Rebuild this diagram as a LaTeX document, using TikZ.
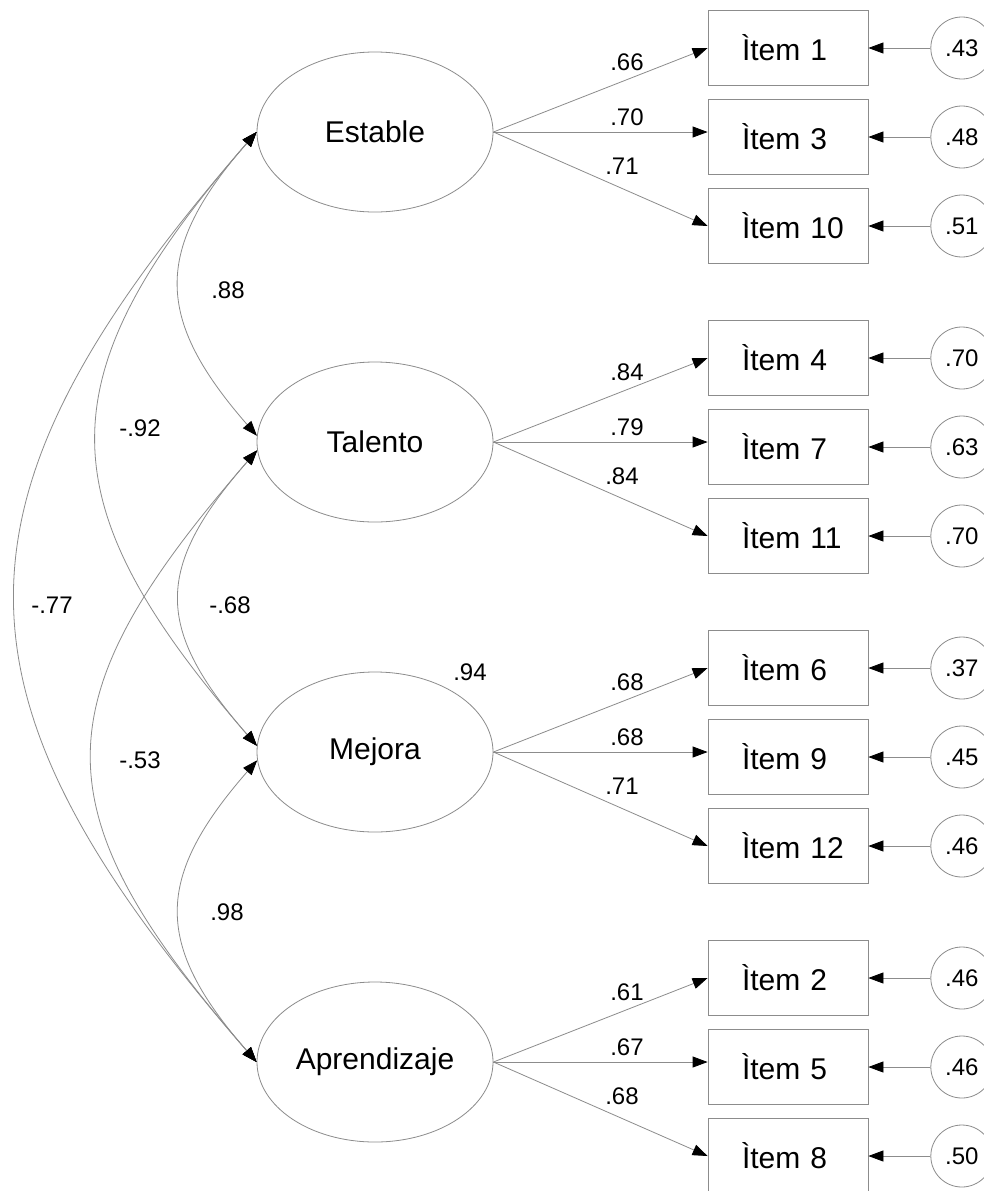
\documentclass[tikz,border=0pt]{standalone}
\usepackage{fontspec}
\setmainfont{Liberation Sans}
\usepackage{tikz}
\usetikzlibrary{positioning}
\usetikzlibrary{shapes.geometric}
\usetikzlibrary{arrows.meta}
\tikzset{
  latent_node/.style = {ellipse, draw=black!45, line width=0.8pt,
    minimum width=236pt, minimum height=160pt, inner sep=0pt,
    font=\fontsize{30}{35}\selectfont},
  item_node/.style = {rectangle, draw=black!45, line width=0.8pt,
    minimum width=160pt, minimum height=75pt, text width=92pt, align=left,
    font=\fontsize{30}{35}\selectfont},
  error_node/.style = {circle, draw=black!45, line width=0.8pt,
    minimum size=62pt, inner sep=0pt, font=\fontsize{24}{28}\selectfont},
  coef_label/.style = {inner sep=0pt, font=\fontsize{24}{28}\selectfont},
  load_arrow/.style = {->, draw=black!45, line width=0.8pt},
  cov_arrow/.style = {<->, draw=black!45, line width=0.8pt}
}
\begin{document}
\begin{tikzpicture}[
    x=1pt, y=-1pt,
    >={Triangle[length=15pt,width=11pt,color=black]}
    ]
  \useasboundingbox[fill=white] (0,0) rectangle (983,1191);

  \node[latent_node] (est) at (375,132) {Estable};
  \node[latent_node] (tal) at (375,442) {Talento};
  \node[latent_node] (mej) at (375,752) {Mejora};
  \node[latent_node] (apr) at (375,1062) {Aprendizaje};

  \node[item_node] (i1) at (788,48) {Ìtem~1};
  \node[item_node] (i3) at (788,137) {Ìtem~3};
  \node[item_node] (i10) at (788,226) {Ìtem~10};
  \node[item_node] (i4) at (788,358) {Ìtem~4};
  \node[item_node] (i7) at (788,447) {Ìtem~7};
  \node[item_node] (i11) at (788,536) {Ìtem~11};
  \node[item_node] (i6) at (788,668) {Ìtem~6};
  \node[item_node] (i9) at (788,757) {Ìtem~9};
  \node[item_node] (i12) at (788,846) {Ìtem~12};
  \node[item_node] (i2) at (788,978) {Ìtem~2};
  \node[item_node] (i5) at (788,1067) {Ìtem~5};
  \node[item_node] (i8) at (788,1156) {Ìtem~8};

  \node[error_node, right=62pt of i1] (e1) {.43};
  \node[error_node, right=62pt of i3] (e3) {.48};
  \node[error_node, right=62pt of i10] (e10) {.51};
  \node[error_node, right=62pt of i4] (e4) {.70};
  \node[error_node, right=62pt of i7] (e7) {.63};
  \node[error_node, right=62pt of i11] (e11) {.70};
  \node[error_node, right=62pt of i6] (e6) {.37};
  \node[error_node, right=62pt of i9] (e9) {.45};
  \node[error_node, right=62pt of i12] (e12) {.46};
  \node[error_node, right=62pt of i2] (e2) {.46};
  \node[error_node, right=62pt of i5] (e5) {.46};
  \node[error_node, right=62pt of i8] (e8) {.50};

  \path (est.east) edge[load_arrow] (i1.west) edge[load_arrow] (est.east -| i3.west)
    edge[load_arrow] (i10.west);
  \path (tal.east) edge[load_arrow] (i4.west) edge[load_arrow] (tal.east -| i7.west)
    edge[load_arrow] (i11.west);
  \path (mej.east) edge[load_arrow] (i6.west) edge[load_arrow] (mej.east -| i9.west)
    edge[load_arrow] (i12.west);
  \path (apr.east) edge[load_arrow] (i2.west) edge[load_arrow] (apr.east -| i5.west)
    edge[load_arrow] (i8.west);

  \path (e1) edge[load_arrow] (i1) (e3) edge[load_arrow] (i3)
    (e10) edge[load_arrow] (i10);
  \path (e4) edge[load_arrow] (i4) (e7) edge[load_arrow] (i7)
    (e11) edge[load_arrow] (i11);
  \path (e6) edge[load_arrow] (i6) (e9) edge[load_arrow] (i9)
    (e12) edge[load_arrow] (i12);
  \path (e2) edge[load_arrow] (i2) (e5) edge[load_arrow] (i5)
    (e8) edge[load_arrow] (i8);

  \node[coef_label] (l1) at (627,62) {.66};
  \node[coef_label] (l3) at (627,117) {.70};
  \node[coef_label] (l10) at (622,166) {.71};
  \node[coef_label] (l4) at (627,372) {.84};
  \node[coef_label] (l7) at (627,427) {.79};
  \node[coef_label] (l11) at (622,476) {.84};
  \node[coef_label] (l6) at (627,682) {.68};
  \node[coef_label] (l9) at (627,737) {.68};
  \node[coef_label] (l12) at (622,786) {.71};
  \node[coef_label] (l2) at (627,992) {.61};
  \node[coef_label] (l5) at (627,1047) {.67};
  \node[coef_label] (l8) at (622,1096) {.68};

  \draw[cov_arrow] (est.west) .. controls +(-103,118) and +(-103,-118) .. (tal.177);
  \draw[cov_arrow] (est.west) .. controls +(-213,245) and +(-213,-245) .. (mej.177);
  \draw[cov_arrow] (est.west) .. controls +(-321,369) and +(-321,-369) .. (apr.west);
  \draw[cov_arrow] (tal.184) .. controls +(-103,118) and +(-103,-118) .. (mej.177);
  \draw[cov_arrow] (tal.184) .. controls +(-219,252) and +(-219,-252) .. (apr.west);
  \draw[cov_arrow] (mej.184) .. controls +(-103,118) and +(-103,-118) .. (apr.west);

  \node[coef_label] (c_et) at (228,290) {.88};
  \node[coef_label] (c_em) at (140,428) {-.92};
  \node[coef_label] (c_ea) at (52,605) {-.77};
  \node[coef_label] (c_tm) at (230,605) {-.68};
  \node[coef_label] (c_ta) at (140,760) {-.53};
  \node[coef_label] (c_ma) at (227,912) {.98};
  \node[coef_label] (r_mej) at (470,672) {.94};
\end{tikzpicture}
\end{document}
